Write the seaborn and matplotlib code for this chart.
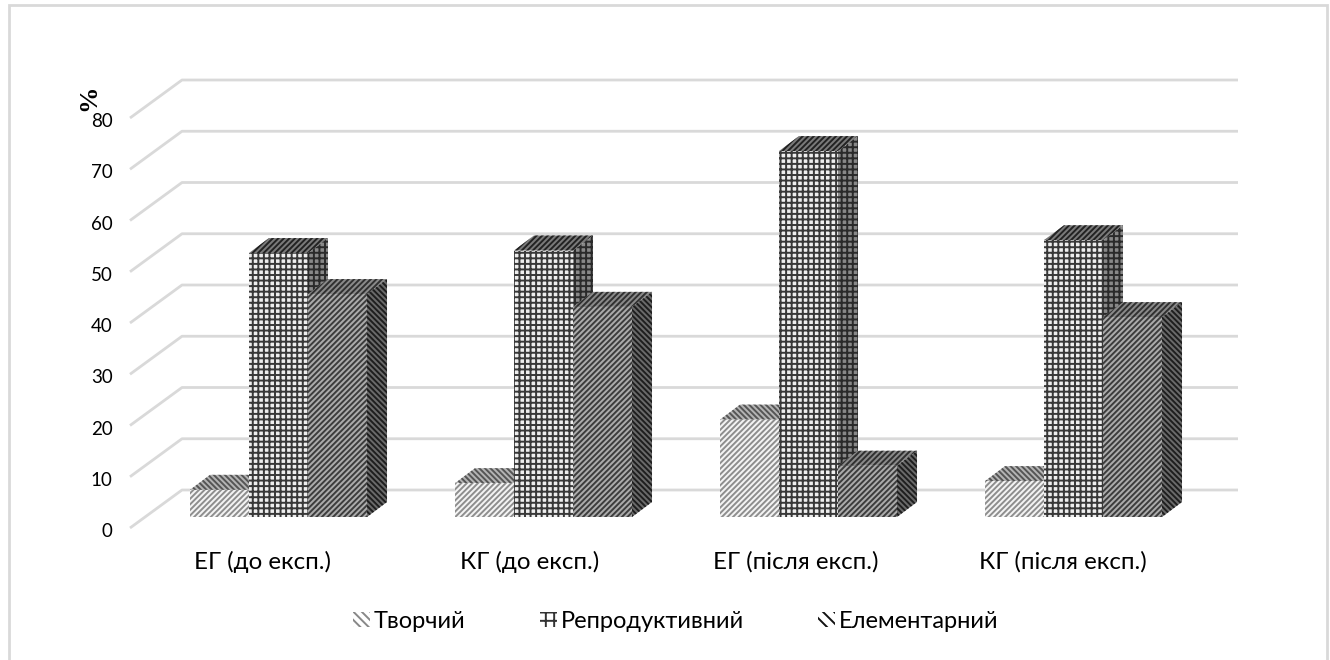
import numpy as np
import pandas as pd
import matplotlib
matplotlib.use("Agg")
import matplotlib.pyplot as plt
from matplotlib.patches import Polygon, Patch, Rectangle
import seaborn as sns

groups = ["ЕГ (до експ.)", "КГ (до експ.)", "ЕГ (після експ.)", "КГ (після експ.)"]
levels = ["Творчий", "Репродуктивний", "Елементарний"]
tvorchyi = [5.3, 6.6, 19.0, 7.0]
reprod = [51.5, 52.0, 71.4, 54.0]
element = [43.5, 41.0, 10.0, 39.0]
ticks = [0, 10, 20, 30, 40, 50, 60, 70, 80]

sns.set_theme(style="white")
plt.rcParams["font.family"] = ["Lato", "Open Sans", "DejaVu Sans"]
plt.rcParams["hatch.linewidth"] = 1.4

W, H = 1330, 660
AX_BOTTOM = 540
AX_TOP = 60
fig = plt.figure(figsize=(W / 100, H / 100), dpi=100, facecolor="white")
ax = fig.add_axes([130 / W, (H - AX_BOTTOM) / H, 1108 / W, (AX_BOTTOM - AX_TOP) / H])
ax.set_facecolor("none")

df = pd.DataFrame({
    "group": groups * 3,
    "level": np.repeat(levels, 4),
    "value": tvorchyi + reprod + element,
})
sns.barplot(data=df, x="group", y="value", hue="level", order=groups, hue_order=levels,
            width=0.668, gap=0, legend=False, ax=ax, zorder=3, errorbar=None)

PX_CAT = 265.0
PX_UNIT = 5.125
XLIM = (-148.5 / PX_CAT, 959.5 / PX_CAT)
YLIM = (-(AX_BOTTOM - 517) / PX_UNIT, (517 - AX_TOP) / PX_UNIT)
ax.set_xlim(*XLIM)
ax.set_ylim(*YLIM)

depth_x = 20 / PX_CAT
depth_y = 15 / PX_UNIT
front_off = -11 / PX_UNIT
back_off = 27 / PX_UNIT
wall_x = XLIM[0] + 52 / PX_CAT

for v in ticks:
    ax.plot([XLIM[0], wall_x, XLIM[1]],
            [v + front_off, v + back_off, v + back_off],
            color="#d9d9d9", lw=2, zorder=1, clip_on=False, solid_capstyle="butt")

styles = {
    "Творчий": dict(front=("#f4f4f4", "#8e8e8e", "//////"), top=("#b4b4b4", "#555555", "\\\\\\\\\\\\"), side=("#aaaaaa", "#555555", "\\\\\\\\\\\\")),
    "Репродуктивний": dict(front=("#eeeeee", "#383838", "+++"), top=("#7a7a7a", "#222222", "//////"), side=("#888888", "#2a2a2a", "+++")),
    "Елементарний": dict(front=("#ababab", "#3c3c3c", "//////"), top=("#8a8a8a", "#303030", "//////"), side=("#6a6a6a", "#1e1e1e", "\\\\\\\\\\\\")),
}
legend_hatch = {"Творчий": "\\\\\\\\", "Репродуктивний": "++", "Елементарний": "\\\\\\"}
legend_edge = {"Творчий": "#888888", "Репродуктивний": "#333333", "Елементарний": "#111111"}

handles = []
for level, cont in zip(levels, ax.containers):
    st = styles[level]
    for r in cont.patches:
        x0, y0, w, h = r.get_x(), r.get_y(), r.get_width(), r.get_height()
        x1, y1 = x0 + w, y0 + h
        r.set(facecolor=st["front"][0], edgecolor=st["front"][1], hatch=st["front"][2], linewidth=0)
        ax.add_patch(Polygon([(x0, y1), (x1, y1), (x1 + depth_x, y1 + depth_y), (x0 + depth_x, y1 + depth_y)],
                             closed=True, facecolor=st["top"][0], edgecolor=st["top"][1],
                             hatch=st["top"][2], linewidth=0, zorder=2, clip_on=False))
        ax.add_patch(Polygon([(x1, y0), (x1 + depth_x, y0 + depth_y), (x1 + depth_x, y1 + depth_y), (x1, y1)],
                             closed=True, facecolor=st["side"][0], edgecolor=st["side"][1],
                             hatch=st["side"][2], linewidth=0, zorder=2, clip_on=False))
    handles.append(Patch(facecolor="#ffffff", edgecolor=legend_edge[level], hatch=legend_hatch[level], linewidth=0))

sns.despine(ax=ax, left=True, bottom=True)
ax.set_yticks([v + front_off - 0.4 for v in ticks], [str(v) for v in ticks])
ax.tick_params(axis="y", length=0, pad=12.5, labelsize=13.5, colors="black")
ax.set_xticks((262.5 - 278.5 + 266.7 * np.arange(len(groups))) / PX_CAT, groups)
ax.tick_params(axis="x", length=0, pad=7.9, labelsize=17.4, colors="black")
ax.set_xlim(*XLIM)
ax.set_ylim(*YLIM)
ax.set_xlabel("")
ax.set_ylabel("%", rotation=90, family="Liberation Serif", fontweight="bold", fontsize=19, color="black")
ax.yaxis.set_label_coords((100 - 130) / 1108, (AX_BOTTOM - 98) / (AX_BOTTOM - AX_TOP))

ax.legend(handles, levels, loc="center", bbox_to_anchor=(676 / W, (H - 621) / H), bbox_transform=fig.transFigure,
          ncol=3, frameon=False, fontsize=17, handlelength=0.72, handleheight=0.6, handletextpad=0.17,
          columnspacing=3.14, labelcolor="black")

fig.add_artist(Rectangle((9 / W, -0.05), 1318 / W, 1.05 - 5 / H, transform=fig.transFigure,
                         fill=False, edgecolor="#d9d9d9", linewidth=2))
fig.savefig("out.png", dpi=100, facecolor="white")
